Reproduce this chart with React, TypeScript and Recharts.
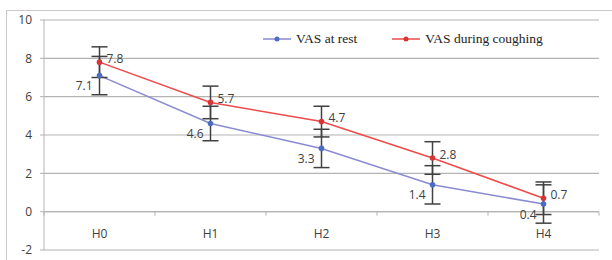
import React from "react"
import { CartesianGrid, ComposedChart, ErrorBar, LabelList, Line, ReferenceLine, XAxis, YAxis } from "recharts"

const categories = ["H0", "H1", "H2", "H3", "H4"]
const restValues = [7.1, 4.6, 3.3, 1.4, 0.4]
const coughValues = [7.8, 5.7, 4.7, 2.8, 0.7]
const restError = [1.0, 0.9, 1.0, 1.0, 1.0]
const coughError = [0.8, 0.85, 0.8, 0.85, 0.85]
const yTicks = [-2, 0, 2, 4, 6, 8, 10]

const data = categories.map((name, i) => ({
  name,
  rest: restValues[i],
  cough: coughValues[i],
  restErr: restError[i],
  coughErr: coughError[i],
}))

const W = 612
const H = 260
const M = { top: 20, right: 13, bottom: 0, left: 0 }
const Y_AXIS_W = 44
const X_AXIS_H = 10
const PLOT_W = W - M.left - M.right - Y_AXIS_W
const PLOT_H = H - M.top - M.bottom - X_AXIS_H
const BAND = PLOT_W / categories.length
const ZERO_UP = (PLOT_H * 2) / 12

const FONT = "'Open Sans', sans-serif"
const TXT = "#404040"
const GRID = "#b3b3b3"

const REST_LINE = "#8a8ad2"
const REST_DOT = "#4b6cc0"
const COUGH_LINE = "#ee4a4a"
const COUGH_DOT = "#d63636"

function CategoryTick(props: any) {
  const { x, y, payload, index } = props
  const top = y - 8 // plot bottom
  const zeroY = top - ZERO_UP
  return (
    <g>
      <line x1={x - BAND / 2} x2={x - BAND / 2} y1={zeroY} y2={zeroY + 4} stroke={GRID} />
      {index === categories.length - 1 && (
        <line x1={x + BAND / 2} x2={x + BAND / 2} y1={zeroY} y2={zeroY + 4} stroke={GRID} />
      )}
      <text x={x} y={zeroY + 22} textAnchor="middle" dominantBaseline="central" fontFamily={FONT} fontSize={12} fill={TXT}>
        {payload.value}
      </text>
    </g>
  )
}

function CoughLabel(props: any) {
  const { x, y, value } = props
  return (
    <text x={x + 7} y={y - 4} dominantBaseline="central" fontFamily={FONT} fontSize={12} fill={TXT}>
      {value}
    </text>
  )
}

function RestLabel(props: any) {
  const { x, y, value } = props
  return (
    <text x={x - 7} y={y + 10} textAnchor="end" dominantBaseline="central" fontFamily={FONT} fontSize={12} fill={TXT}>
      {value}
    </text>
  )
}

function LegendItem({ line, dot, label }: { line: string; dot: string; label: string }) {
  return (
    <div style={{ display: "flex", alignItems: "center", marginRight: 35 }}>
      <svg width={28} height={10} style={{ marginRight: 5 }}>
        <line x1={0} x2={28} y1={5} y2={5} stroke={line} strokeWidth={1.5} />
        <circle cx={14} cy={5} r={2.5} fill={dot} />
      </svg>
      <span style={{ fontFamily: "'Liberation Serif', serif", fontSize: 13.5, color: "#222" }}>{label}</span>
    </div>
  )
}

export default function App() {
  return (
    <div style={{ position: "absolute", left: 0, top: 0, width: W, height: H, overflow: "hidden", background: "#fff" }}>
      <div style={{ position: "absolute", left: 6, top: 10, width: 700, height: 400, border: "1.5px solid #c8c8c8" }} />
      <ComposedChart width={W} height={H} data={data} margin={M} style={{ position: "absolute", left: 0, top: 0 }}>
        <CartesianGrid vertical={false} stroke={GRID} strokeWidth={1.2} />
        <XAxis
          dataKey="name"
          height={X_AXIS_H}
          axisLine={false}
          tickLine={false}
          tick={<CategoryTick />}
          interval={0}
          padding={{ left: BAND / 2, right: BAND / 2 }}
        />
        <YAxis
          width={Y_AXIS_W}
          domain={[-2, 10]}
          ticks={yTicks}
          interval={0}
          stroke={GRID}
          tickSize={4}
          tickMargin={8}
          tick={{ fontFamily: FONT, fontSize: 12, fill: TXT }}
        />
        <ReferenceLine y={0} stroke={GRID} strokeWidth={1.2} />
        <Line
          dataKey="rest"
          stroke={REST_LINE}
          strokeWidth={1.5}
          dot={{ r: 2.8, fill: REST_DOT, stroke: REST_DOT, strokeWidth: 0 }}
          activeDot={false}
          isAnimationActive={false}
        >
          <ErrorBar dataKey="restErr" width={8} stroke="#404040" strokeWidth={1.5} />
          <LabelList dataKey="rest" content={<RestLabel />} />
        </Line>
        <Line
          dataKey="cough"
          stroke={COUGH_LINE}
          strokeWidth={1.5}
          dot={{ r: 2.8, fill: COUGH_DOT, stroke: COUGH_DOT, strokeWidth: 0 }}
          activeDot={false}
          isAnimationActive={false}
        >
          <ErrorBar dataKey="coughErr" width={8} stroke="#404040" strokeWidth={1.5} />
          <LabelList dataKey="cough" content={<CoughLabel />} />
        </Line>
      </ComposedChart>
      <div style={{ position: "absolute", left: 263, top: 31, display: "flex", alignItems: "center" }}>
        <LegendItem line={REST_LINE} dot={REST_DOT} label="VAS at rest" />
        <LegendItem line={COUGH_LINE} dot={COUGH_DOT} label="VAS during coughing" />
      </div>
    </div>
  )
}
